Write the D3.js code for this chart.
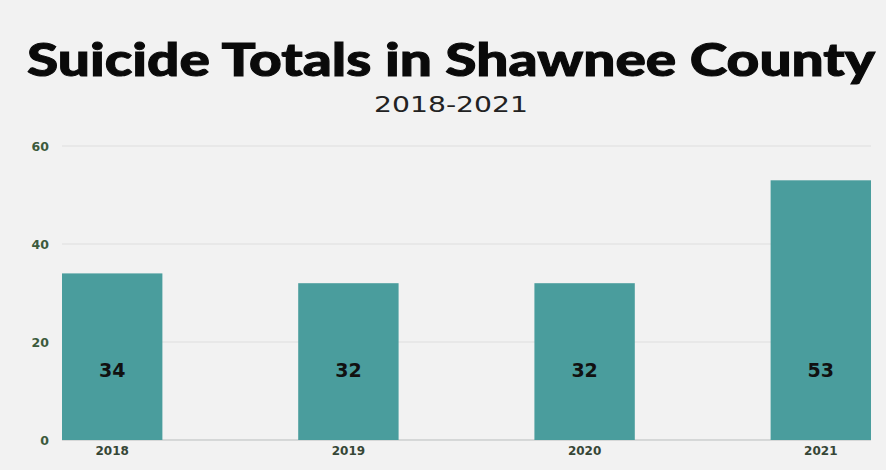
<!DOCTYPE html>
<html>
<head>
<meta charset="utf-8">
<script src="https://cdn.jsdelivr.net/npm/d3@7"></script>
<style>
  html, body { margin: 0; padding: 0; background: #f2f2f2; }
  svg { display: block; }
</style>
</head>
<body>
<svg id="chart" width="886" height="470"></svg>
<script>
const categories = ["2018", "2019", "2020", "2021"];
const values = [34, 32, 32, 53];
const yTicks = [0, 20, 40, 60];
const titleText = "Suicide Totals in Shawnee County";
const subtitleText = "2018-2021";

const W = 886, H = 470;
const svg = d3.select("#chart");

svg.append("rect").attr("width", W).attr("height", H).attr("fill", "#f2f2f2");

const x = d3.scaleBand().domain(categories).range([62, 871]).paddingInner(0.575).paddingOuter(0);
const y = d3.scaleLinear().domain([0, 60]).range([440, 146]);

// y axis labels
const yAxis = d3.axisLeft(y).tickValues(yTicks).tickSize(0).tickPadding(13);
const gAxis = svg.append("g").attr("transform", "translate(62,0)").call(yAxis);
gAxis.select(".domain").remove();
gAxis.selectAll(".tick line").remove();
gAxis.selectAll(".tick text")
  .attr("fill", "#3c5a3c")
  .attr("font-family", "'DejaVu Sans', sans-serif")
  .attr("font-weight", 700)
  .attr("font-size", 12.5);

// gridlines
svg.append("g").selectAll("line").data(yTicks).join("line")
  .attr("x1", 62).attr("x2", 871)
  .attr("y1", d => y(d)).attr("y2", d => y(d))
  .attr("stroke", d => d === 0 ? "#b9bdbd" : "#dedede")
  .attr("stroke-width", 1);

// bars
svg.append("g").selectAll("rect").data(values).join("rect")
  .attr("x", (d, i) => x(categories[i]))
  .attr("width", x.bandwidth())
  .attr("y", d => y(d))
  .attr("height", d => y(0) - y(d))
  .attr("fill", "#4a9d9d");

// value labels
svg.append("g").selectAll("text").data(values).join("text")
  .attr("x", (d, i) => x(categories[i]) + x.bandwidth() / 2)
  .attr("y", y(14) + 6)
  .attr("text-anchor", "middle")
  .attr("font-family", "'DejaVu Sans', sans-serif")
  .attr("font-weight", 700)
  .attr("font-size", 19)
  .attr("fill", "#111")
  .text(d => d);

// x axis labels
const xAxis = d3.axisBottom(x).tickSize(0).tickPadding(6);
const gx = svg.append("g").attr("transform", "translate(0,440)").call(xAxis);
gx.select(".domain").remove();
gx.selectAll(".tick text")
  .attr("fill", "#364636")
  .attr("font-family", "'DejaVu Sans', sans-serif")
  .attr("font-weight", 700)
  .attr("font-size", 12);

// title
svg.append("text")
  .attr("x", 27).attr("y", 76)
  .attr("font-family", "Lato, sans-serif")
  .attr("font-weight", 900)
  .attr("font-size", 46)
  .attr("textLength", 848)
  .attr("lengthAdjust", "spacingAndGlyphs")
  .attr("fill", "#0a0a0a")
  .attr("stroke", "#0a0a0a")
  .attr("stroke-width", 1)
  .text(titleText);

// subtitle
svg.append("text")
  .attr("x", 374).attr("y", 112)
  .attr("font-family", "'DejaVu Sans', sans-serif")
  .attr("font-weight", 400)
  .attr("font-size", 21)
  .attr("textLength", 154)
  .attr("lengthAdjust", "spacingAndGlyphs")
  .attr("fill", "#222")
  .text(subtitleText);
</script>
</body>
</html>
